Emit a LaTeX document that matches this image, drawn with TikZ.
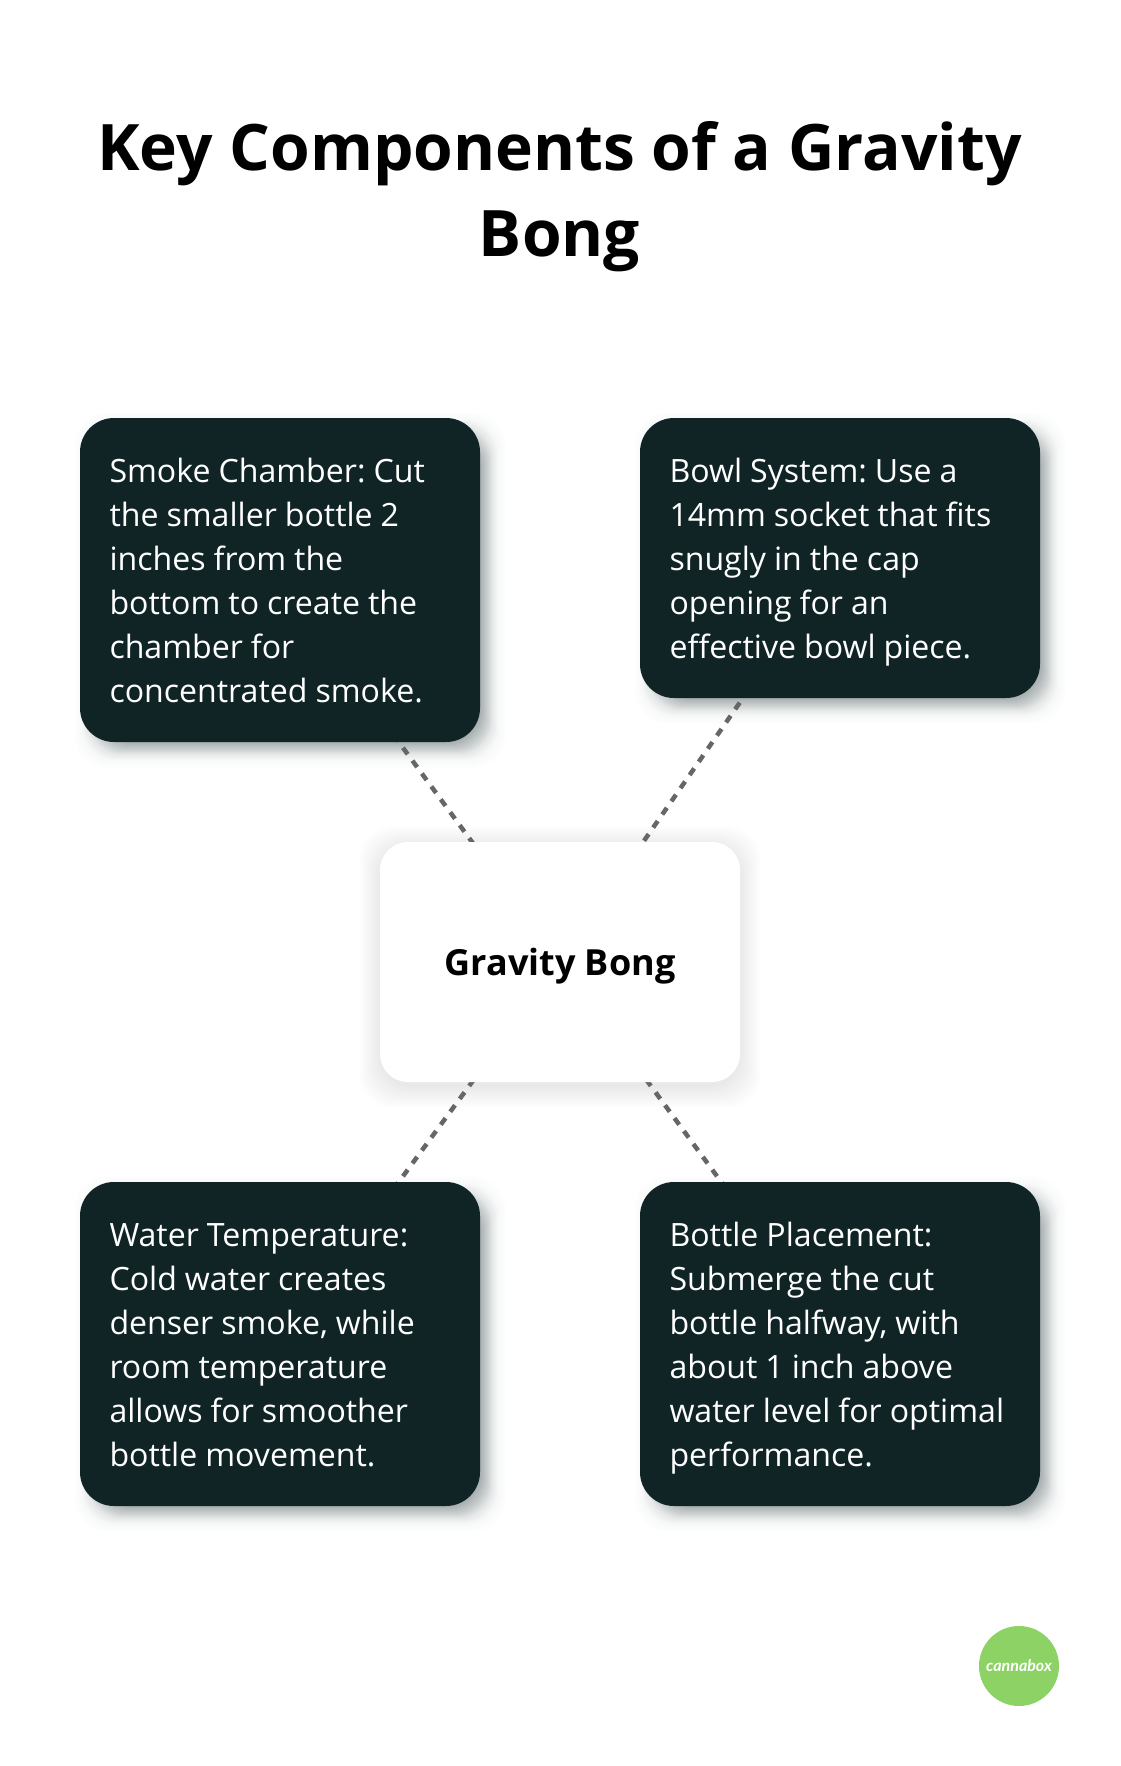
\documentclass[tikz,border=0pt]{standalone}
\usepackage{fontspec}
\setmainfont{Open Sans}
\newfontfamily\logofont{Lato}
\usetikzlibrary{backgrounds,calc}
\definecolor{boxdark}{HTML}{102426}
\definecolor{logogreen}{HTML}{8CD264}
\definecolor{dashgrey}{HTML}{666666}
\newcommand{\softshadow}[8]{% node, colour, dx, dy, opacity, first, second, last shrink
  \foreach \s in {#6,#7,...,#8}{
    \fill[#2,fill opacity=#5,rounded corners=34pt]
      ($(#1.south west)+(#3pt,#4pt)+(\s pt,\s pt)$) rectangle
      ($(#1.north east)+(#3pt,#4pt)-(\s pt,\s pt)$);
  }}
\newcommand{\cardshadow}[1]{%
  \softshadow{#1}{boxdark}{10}{-10}{0.005}{-16}{-15}{-9}%
  \softshadow{#1}{boxdark}{10}{-10}{0.012}{-8}{-7}{-3}%
  \softshadow{#1}{boxdark}{10}{-10}{0.026}{-2}{-1}{20}}
\newcommand{\cs}{\rule[-9.5pt]{0pt}{44pt}}
\newcommand{\csb}{\spaceskip=8pt\relax\xspaceskip=8pt\relax\cs}
\newcommand{\cardfontsetup}{\frenchspacing\fontsize{32.1}{44}\selectfont}
\tikzset{
  dark/.style={fill=boxdark,text=white,rounded corners=34pt,minimum width=400pt,
    text width=341pt,inner xsep=29.5pt,inner ysep=30pt,align=left,anchor=center,
    font=\cardfontsetup},
  hub/.style={fill=white,rounded corners=28pt,minimum width=360pt,minimum height=240pt,
    text height=37pt,text depth=10pt,
    font=\fontsize{36}{44}\selectfont\bfseries,text=black,anchor=center},
  heading/.style={align=center,text=black,font=\fontsize{64.1}{85.5}\selectfont\bfseries,anchor=center},
  link/.style={draw=dashgrey,line width=4.5pt,dash pattern=on 8pt off 8pt},
}
\begin{document}
\begin{tikzpicture}[x=1pt,y=-1pt]
\useasboundingbox (0,0) rectangle (1120,1766);
\node[heading] (title) at (559.5,196.5) {Key Components of a Gravity\\Bong};
\node[dark] (smoke) at (280,580) {\csb Smoke Chamber: Cut\\the smaller bottle 2\\inches from the\\bottom to create the\\chamber for\\concentrated smoke.\cs};
\node[dark] (bowl) at (840,558) {\csb Bowl System: Use a\\14mm socket that fits\\snugly in the cap\\opening for an\\effective bowl piece.\cs};
\node[hub] (hubnode) at (560,962) {Gravity Bong};
\node[dark] (water) at (280,1344) {\csb Water Temperature:\\Cold water creates\\denser smoke, while\\room temperature\\allows for smoother\\bottle movement.\cs};
\node[dark] (place) at (840,1344) {\csb Bottle Placement:\\Submerge the cut\\bottle halfway, with\\about 1 inch above\\water level for optimal\\performance.\cs};
\node[circle,fill=logogreen,minimum size=80pt,inner sep=0pt,text=white,font=\logofont\fontsize{16}{16}\selectfont\bfseries\itshape] (logo) at (1019,1666) {cannabox};
\begin{pgfonlayer}{background}
\cardshadow{smoke}
\cardshadow{bowl}
\cardshadow{water}
\cardshadow{place}
\softshadow{hubnode}{black}{0}{-5}{0.0012}{-36}{-35}{-22}
\softshadow{hubnode}{black}{0}{-5}{0.0045}{-21}{-20}{0}
\draw[link] (smoke.center) -- (hubnode.center);
\draw[link] (bowl.center) -- (hubnode.center);
\draw[link] (water.center) -- (hubnode.center);
\draw[link] (place.center) -- (hubnode.center);
\end{pgfonlayer}
\end{tikzpicture}
\end{document}
